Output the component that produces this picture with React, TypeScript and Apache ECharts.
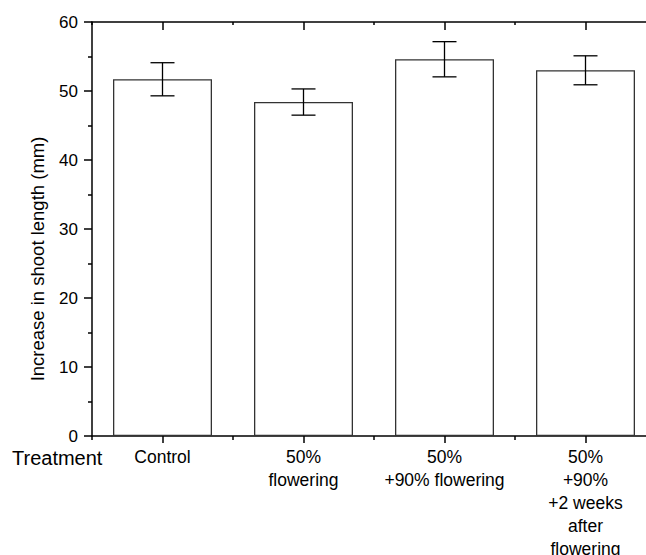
import React, { useEffect, useRef } from "react";
import * as echarts from "echarts";

const categories = ["Control", "50%\nflowering", "50%\n+90% flowering", "50%\n+90%\n+2 weeks\nafter\nflowering"];
const means = [51.7, 48.4, 54.6, 53.0];
const errors = [2.4, 1.9, 2.55, 2.1];
const yTicks = [0, 10, 20, 30, 40, 50, 60];
const xAxisTitle = "Treatment";
const yAxisTitle = "Increase in shoot length (mm)";

const FONT = "'Liberation Sans', Arial, sans-serif";

export default function App() {
  const ref = useRef<HTMLDivElement>(null);
  useEffect(() => {
    if (!ref.current) return;
    const chart = echarts.init(ref.current, null, { renderer: "svg" });
    const gridPos = { left: 92, top: 22, right: -10, bottom: 119, containLabel: false, outerBoundsMode: "none" };
    const errData = means.map((m, i) => [i, m + errors[i], m - errors[i]]);
    chart.setOption({
      animation: false,
      backgroundColor: "#fff",
      textStyle: { fontFamily: FONT },
      grid: [gridPos, gridPos],
      xAxis: [
        {
          type: "category", gridIndex: 0, position: "bottom", data: categories,
          axisLine: { show: true, lineStyle: { color: "#000", width: 1.5 } },
          axisTick: { show: true, alignWithLabel: true, length: 7, lineStyle: { color: "#000", width: 1.5 } },
          axisLabel: { color: "#000", fontSize: 17.5, lineHeight: 23, margin: 9, fontFamily: FONT, interval: 0 },
        },
        {
          type: "category", gridIndex: 0, position: "top", data: categories,
          axisLine: { show: true, lineStyle: { color: "#000", width: 1.5 } },
          axisTick: { show: true, alignWithLabel: true, inside: true, length: 8, lineStyle: { color: "#000", width: 1.5 } },
          axisLabel: { show: false },
        },
        {
          type: "category", gridIndex: 1, position: "bottom", data: categories,
          axisLine: { show: false },
          axisTick: { show: true, length: 4, lineStyle: { color: "#000", width: 1.5 } },
          axisLabel: { show: false },
        },
        {
          type: "category", gridIndex: 1, position: "top", data: categories,
          axisLine: { show: false },
          axisTick: { show: true, inside: true, length: 3, lineStyle: { color: "#000", width: 1.5 } },
          axisLabel: { show: false },
        },
      ],
      yAxis: [
        {
          type: "value", gridIndex: 0, min: yTicks[0], max: yTicks[yTicks.length - 1], interval: 10,
          axisLine: { show: true, lineStyle: { color: "#000", width: 1.5 } },
          axisTick: { show: true, length: 8, lineStyle: { color: "#000", width: 1.5 } },
          minorTick: { show: true, splitNumber: 2, length: 4, lineStyle: { color: "#000", width: 1.5 } },
          splitLine: { show: false },
          axisLabel: { color: "#000", fontSize: 17, margin: 14, fontFamily: FONT },
        },
        {
          type: "value", gridIndex: 1, min: 0, max: 60, show: false,
        },
      ],
      series: [
        {
          type: "bar", xAxisIndex: 0, yAxisIndex: 0, data: means, barWidth: 99,
          itemStyle: { color: "#fff", borderColor: "#333", borderWidth: 1.3 },
        },
        {
          type: "custom", xAxisIndex: 0, yAxisIndex: 0, data: errData,
          encode: { x: 0, y: [1, 2] },
          renderItem: (params: any, api: any) => {
            const x = api.value(0);
            const hi = api.coord([x, api.value(1)]);
            const lo = api.coord([x, api.value(2)]);
            const hw = 12;
            const st = { stroke: "#000", lineWidth: 1.3 };
            return {
              type: "group",
              children: [
                { type: "line", shape: { x1: hi[0], y1: hi[1], x2: lo[0], y2: lo[1] }, style: st },
                { type: "line", shape: { x1: hi[0] - hw, y1: hi[1], x2: hi[0] + hw, y2: hi[1] }, style: st },
                { type: "line", shape: { x1: lo[0] - hw, y1: lo[1], x2: lo[0] + hw, y2: lo[1] }, style: st },
              ],
            };
          },
          z: 5,
        },
      ],
      graphic: [
        {
          type: "text", left: 12, top: 448,
          style: { text: xAxisTitle, fontSize: 20, fill: "#000", fontFamily: FONT },
        },
        {
          type: "text", x: 37, y: 259, rotation: Math.PI / 2,
          style: { text: yAxisTitle, fontSize: 18.5, fill: "#000", fontFamily: FONT, align: "center", verticalAlign: "middle" },
        },
      ],
    });
    return () => chart.dispose();
  }, []);
  return <div ref={ref} style={{ width: 646, height: 555, position: "absolute", left: 0, top: 0 }} />;
}
